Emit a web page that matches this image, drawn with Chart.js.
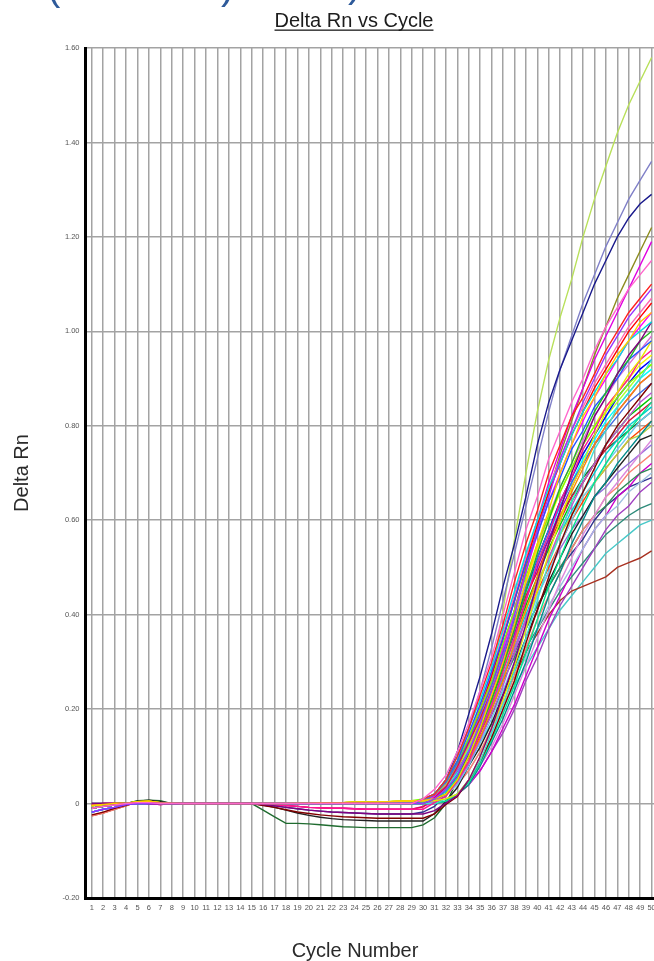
<!DOCTYPE html>
<html><head><meta charset="utf-8">
<script src="https://cdn.jsdelivr.net/npm/chart.js@4"></script>
<style>html,body{margin:0;padding:0;background:#fff;overflow:hidden}canvas{display:block}</style>
</head><body>
<canvas id="c" width="654" height="961" style="width:654px;height:961px"></canvas>
<script>
// ---------- data ----------
const chartTitle = 'Delta Rn vs Cycle';
const xTitle = 'Cycle Number';
const yTitle = 'Delta Rn';
const cycles = [1,2,3,4,5,6,7,8,9,10,11,12,13,14,15,16,17,18,19,20,21,22,23,24,25,26,27,28,29,30,31,32,33,34,35,36,37,38,39,40,41,42,43,44,45,46,47,48,49,50];
const yTicks = [-0.2,0,0.2,0.4,0.6,0.8,1.0,1.2,1.4,1.6];
const yTickLabels = ['-0.20','0','0.20','0.40','0.60','0.80','1.00','1.20','1.40','1.60'];

// baseline segments, cycles 1-29
const baseA = [-0.01,-0.006,-0.003,0,0.002,0.002,0,0,0,0,0,0,0,0,0,0,0,0,0,0,0,0,0,0,0,0,0,0,0];
const baseB = [-0.004,-0.002,0,0,0.004,0.005,0.002,0.001,0,0,0,0,0,0,0,0,0,0,0.001,0.001,0.002,0.002,0.002,0.003,0.003,0.003,0.004,0.005,0.006];
const baseC = [-0.026,-0.02,-0.012,-0.005,0.004,0.006,0.003,0,0,0,0,0,0,0,0,0,0,0,0,0,0,0,0,0,0,0,0,0,0];
const baseD = [-0.018,-0.012,-0.008,-0.002,0,0,0,0,0,0,0,0,0,0,0,0,0,0,0,0,0,0,0,0,0,0,0,0,0];
const baseE = [-0.003,0,0,0,0.002,0,-0.002,0,0,0,0,0,0,0,0,0,-0.002,-0.004,-0.006,-0.008,-0.009,-0.01,-0.01,-0.011,-0.012,-0.012,-0.012,-0.012,-0.012];
const baseF = [0,0,0,0,0,0,0,0,0,0,0,0,0,0,0,-0.002,-0.005,-0.008,-0.011,-0.014,-0.016,-0.018,-0.019,-0.02,-0.021,-0.022,-0.022,-0.022,-0.022];
const baseG = [-0.024,-0.018,-0.01,-0.004,0.003,0.006,0,0,0,0,0,0,0,0,0,-0.004,-0.008,-0.013,-0.018,-0.021,-0.024,-0.026,-0.028,-0.029,-0.03,-0.031,-0.031,-0.031,-0.031];
const baseH = [0,0,0,0,0.005,0.007,0.004,0,0,0,0,0,0,0,0,-0.003,-0.008,-0.014,-0.02,-0.025,-0.029,-0.032,-0.034,-0.035,-0.036,-0.037,-0.037,-0.037,-0.037];
const baseI = [-0.005,-0.003,0,0,0.006,0.007,0.006,0,0,0,0,0,0,0,0,-0.014,-0.028,-0.042,-0.042,-0.043,-0.045,-0.047,-0.049,-0.05,-0.051,-0.051,-0.051,-0.051,-0.051];

// amplification segments, cycles 30-50
const riseLG = [.003,.008,.02,.045,.09,.16,.27,.41,.56,.70,.83,.94,1.03,1.11,1.20,1.28,1.35,1.42,1.48,1.53,1.58];
const riseSlate = [.005,.015,.04,.09,.16,.24,.33,.43,.53,.63,.73,.83,.92,.99,1.06,1.12,1.18,1.23,1.28,1.32,1.36];
const riseNavy = [.005,.02,.05,.11,.19,.27,.36,.46,.55,.65,.76,.85,.92,.98,1.04,1.10,1.15,1.20,1.24,1.27,1.29];
const riseOlive = [.004,.01,.03,.07,.12,.18,.25,.33,.41,.50,.58,.66,.74,.81,.88,.95,1.01,1.07,1.12,1.17,1.22];
const riseMagenta = [-.006,.003,.03,.072,.13,.20,.27,.35,.44,.52,.60,.68,.75,.82,.88,.94,.99,1.04,1.09,1.14,1.19];
const riseBrown = [.002,.01,.03,.06,.10,.14,.19,.23,.27,.32,.36,.40,.43,.45,.46,.47,.48,.50,.51,.52,.535];
const riseCyanTeal = [.003,.01,.025,.05,.09,.13,.17,.21,.25,.29,.33,.37,.41,.44,.47,.50,.53,.55,.57,.59,.60];
const riseTeal = [.003,.01,.03,.06,.10,.14,.19,.24,.28,.33,.37,.41,.45,.48,.51,.54,.57,.59,.61,.625,.635];
const riseNavy2 = [-.018,-.006,.02,.06,.11,.16,.21,.27,.32,.37,.42,.46,.50,.53,.56,.60,.63,.65,.67,.68,.69];
const riseDkGreen = [-.045,-.03,0,.05,.11,.18,.25,.32,.39,.45,.51,.56,.61,.65,.69,.72,.75,.77,.79,.81,.83];
const rise01 = [.01,.03,.06,.11,.17,.24,.31,.40,.49,.58,.65,.73,.79,.85,.90,.96,1.01,1.05,1.09,1.12,1.15];
const rise02 = [0,.01,.03,.06,.11,.17,.24,.31,.40,.49,.58,.65,.73,.79,.85,.90,.95,.99,1.03,1.06,1.09];
const rise03 = [.01,.02,.05,.10,.16,.23,.30,.38,.47,.55,.62,.70,.76,.82,.86,.91,.96,1.0,1.04,1.07,1.10];
const rise04 = [.006,.01,.02,.05,.10,.16,.23,.30,.38,.47,.55,.62,.70,.76,.82,.86,.91,.95,.98,1.02,1.04];
const rise05 = [.01,.02,.05,.10,.16,.22,.29,.37,.45,.53,.60,.67,.72,.78,.83,.87,.91,.94,.98,1.0,1.02];
const rise06 = [-.022,-.015,.001,.017,.05,.10,.16,.23,.30,.38,.47,.55,.62,.70,.76,.82,.86,.91,.95,.98,1.02];
const rise07 = [0,.01,.02,.05,.10,.16,.22,.29,.37,.45,.53,.60,.67,.72,.78,.83,.87,.91,.94,.98,1.0];
const rise08 = [.01,.02,.05,.09,.15,.21,.28,.35,.43,.51,.57,.64,.69,.75,.79,.84,.87,.90,.94,.96,.98];
const rise09 = [.006,.006,.01,.02,.05,.10,.16,.22,.29,.37,.45,.53,.60,.67,.72,.78,.83,.87,.91,.94,.98];
const rise10 = [-.012,.002,.015,.048,.09,.15,.21,.28,.35,.43,.51,.57,.64,.69,.75,.79,.84,.87,.90,.94,.96];
const rise11 = [0,0,.01,.02,.05,.09,.15,.21,.28,.35,.43,.51,.57,.64,.69,.75,.79,.84,.87,.90,.94];
const rise12 = [.01,.02,.05,.09,.14,.20,.26,.34,.41,.48,.55,.61,.66,.71,.76,.80,.83,.86,.89,.91,.93];
const rise13 = [.006,.01,.02,.05,.09,.14,.20,.26,.34,.41,.48,.55,.61,.66,.71,.76,.80,.83,.86,.89,.91];
const rise14 = [-.031,-.022,-.002,.015,.05,.09,.14,.20,.26,.34,.41,.48,.55,.61,.66,.71,.76,.80,.83,.86,.89];
const rise15 = [.005,.02,.045,.085,.135,.19,.25,.32,.39,.46,.52,.58,.63,.68,.72,.76,.79,.82,.85,.87,.89];
const rise16 = [0,.005,.02,.045,.085,.135,.19,.25,.32,.39,.46,.52,.58,.63,.68,.72,.76,.79,.82,.85,.87];
const rise17 = [0,0,.005,.02,.045,.085,.135,.19,.25,.32,.39,.46,.52,.58,.63,.68,.72,.76,.79,.82,.85];
const rise18 = [-.007,.012,.035,.078,.13,.18,.24,.30,.37,.44,.49,.55,.60,.65,.68,.72,.75,.78,.81,.83,.85];
const rise19 = [0,.005,.02,.04,.08,.13,.18,.24,.30,.37,.44,.49,.55,.60,.65,.68,.72,.75,.78,.81,.83];
const rise20 = [0,0,.005,.02,.04,.08,.13,.18,.24,.30,.37,.44,.49,.55,.60,.65,.68,.72,.75,.78,.81];
const rise21 = [-.037,-.021,.005,.034,.08,.12,.17,.23,.29,.35,.41,.47,.52,.57,.61,.65,.68,.71,.74,.77,.78];
const rise22 = [.006,.02,.04,.08,.12,.17,.23,.29,.35,.41,.47,.52,.57,.61,.65,.68,.71,.74,.77,.78,.80];
const rise23 = [0,0,.005,.02,.04,.08,.12,.17,.23,.29,.35,.41,.47,.52,.57,.61,.65,.68,.71,.74,.77];
const rise24 = [0,.004,.02,.04,.07,.11,.16,.21,.27,.33,.39,.44,.49,.54,.58,.61,.65,.67,.70,.72,.74];
const rise25 = [.004,.02,.04,.07,.11,.16,.21,.27,.33,.39,.44,.49,.54,.58,.61,.65,.67,.70,.72,.74,.76];
const rise26 = [.004,.02,.04,.07,.11,.15,.20,.26,.31,.37,.42,.46,.50,.54,.58,.61,.63,.66,.68,.70,.71];
const rise27 = [0,.004,.02,.04,.07,.11,.15,.20,.26,.31,.37,.42,.46,.50,.54,.58,.61,.63,.66,.68,.70];
const rise28 = [0,0,.004,.02,.04,.07,.11,.16,.21,.27,.33,.39,.44,.49,.54,.58,.61,.65,.67,.70,.72];
const rise29 = [0,0,.004,.02,.04,.07,.11,.15,.20,.26,.31,.37,.42,.46,.50,.54,.58,.61,.63,.66,.68];
const rise30 = [.005,.015,.035,.075,.13,.19,.26,.33,.41,.49,.57,.64,.70,.76,.81,.86,.90,.94,.98,1.01,1.04];
const rise31 = [.004,.012,.03,.065,.115,.17,.235,.30,.37,.44,.51,.57,.63,.68,.73,.77,.81,.84,.87,.90,.92];
const rise32 = [.006,.012,.03,.07,.12,.18,.245,.315,.39,.465,.54,.60,.66,.71,.76,.80,.84,.87,.90,.93,.95];
const rise33 = [.005,.015,.04,.08,.135,.20,.27,.35,.43,.51,.59,.66,.72,.78,.83,.88,.92,.96,1.0,1.03,1.06];
const rise34 = [.004,.01,.03,.06,.105,.16,.22,.285,.35,.42,.48,.54,.59,.64,.68,.72,.76,.79,.82,.84,.86];
const rise35 = [.005,.015,.035,.07,.12,.18,.24,.31,.38,.45,.52,.58,.64,.69,.74,.78,.82,.86,.89,.92,.94];
const rise36 = [.005,.015,.04,.08,.14,.21,.28,.36,.44,.52,.60,.67,.73,.79,.84,.89,.93,.97,1.01,1.04,1.07];
const rise37 = [.004,.012,.03,.065,.11,.165,.225,.29,.36,.43,.50,.56,.62,.67,.72,.76,.80,.83,.86,.89,.91];
const rise38 = [.004,.01,.025,.055,.10,.15,.21,.27,.34,.40,.46,.52,.57,.62,.66,.70,.74,.77,.80,.82,.84];
const rise39 = [.005,.013,.032,.068,.12,.175,.24,.31,.38,.45,.52,.58,.64,.69,.74,.78,.82,.85,.88,.91,.93];
const rise40 = [.004,.01,.028,.06,.10,.15,.21,.27,.33,.39,.45,.50,.55,.60,.64,.68,.71,.74,.77,.79,.81];
const rise41 = [.005,.014,.035,.072,.125,.185,.25,.32,.40,.47,.54,.61,.67,.72,.77,.82,.86,.90,.93,.96,.99];

// wells: [name, baseline (cycles 1-29), amplification (cycles 30-50)]
const wells = [
  ['W01', baseA, rise01], ['W02', baseD, rise02], ['W03', baseA, rise03], ['W04', baseB, rise04],
  ['W05', baseA, rise05], ['W06', baseF, rise06], ['W07', baseA, rise07], ['W08', baseD, rise08],
  ['W09', baseB, rise09], ['W10', baseE, rise10], ['W11', baseA, rise11], ['W12', baseB, rise12],
  ['W13', baseB, rise13], ['W14', baseG, rise14], ['W15', baseA, rise15], ['W16', baseA, rise16],
  ['W17', baseA, rise17], ['W18', baseE, rise18], ['W19', baseD, rise19], ['W20', baseA, rise20],
  ['W21', baseH, rise21], ['W22', baseB, rise22], ['W23', baseA, rise23], ['W24', baseC, rise24],
  ['W25', baseA, rise25], ['W26', baseA, rise26], ['W27', baseD, rise27], ['W28', baseA, rise28],
  ['W29', baseA, rise29], ['W30', baseA, rise30], ['W31', baseD, rise31], ['W32', baseB, rise32],
  ['W33', baseA, rise33], ['W34', baseA, rise34], ['W35', baseD, rise35], ['W36', baseA, rise36],
  ['W37', baseA, rise37], ['W38', baseA, rise38], ['W39', baseB, rise39], ['W40', baseA, rise40],
  ['W41', baseA, rise41],
  ['W42', baseI, riseDkGreen], ['W43', baseC, riseBrown], ['W44', baseA, riseCyanTeal], ['W45', baseA, riseTeal],
  ['W46', baseF, riseNavy2], ['W47', baseE, riseMagenta], ['W48', baseA, riseOlive],
  ['W49', baseA, riseNavy], ['W50', baseD, riseSlate], ['W51', baseB, riseLG]
];

// ---------- styles ----------
const wellColors = [
  '#ff66cc','#9933ff','#ff2020','#ffc800','#00e0e0','#800080','#22bb22','#2255ff',
  '#e8e800','#ff1493','#40e0d0','#7fff00','#ff8c00','#800000','#4169e1','#ba55d3',
  '#00e890','#dc143c','#70c8f0','#008b8b','#222222','#b8d040','#dd88dd','#fa8072',
  '#9370db','#2e8b57','#9ec0e0','#cc00cc','#a040c0',
  '#ff00ff','#00ffff','#f5f500','#ff0000','#00c800','#0000ff','#ff69b4','#9400d3',
  '#00ced1','#adff2f','#ff4500','#da70d6',
  '#1f6b2f','#a83020','#48c8c8','#2e8b7a','#303090','#e000e0','#8c8c1e',
  '#1a1a8c','#8080c8','#b8e05a'
];
const FONT = '"Liberation Sans", Arial, sans-serif';

const datasets = wells.map((w, i) => ({
  label: w[0],
  data: w[1].concat(w[2]).map((v, j) => ({x: cycles[j], y: v})),
  borderColor: wellColors[i],
  borderWidth: 1.4,
  pointRadius: 0,
  fill: false,
  tension: 0
}));

const textPlugin = {
  id: 'texts',
  afterDraw(chart) {
    const ctx = chart.ctx;
    const a = chart.chartArea;
    ctx.save();
    // cut-off blue heading fragments at the very top
    ctx.fillStyle = '#2e5a9a';
    ctx.font = '40px ' + FONT;
    ctx.textAlign = 'left';
    ctx.textBaseline = 'alphabetic';
    ctx.fillText('(', 47, -0.5);
    ctx.fillText(')', 221, -1);
    ctx.fillText(')', 348, -3);
    // chart title, underlined
    ctx.fillStyle = '#1c1c1c';
    ctx.font = '20px ' + FONT;
    ctx.textAlign = 'center';
    const tx = 354, ty = 27;
    ctx.fillText(chartTitle, tx, ty);
    const tw = ctx.measureText(chartTitle).width;
    ctx.fillRect(tx - tw / 2, ty + 2.5, tw, 1.3);
    // x axis title
    ctx.fillStyle = '#2a2a2a';
    ctx.fillText(xTitle, 355, 957);
    // y axis title
    ctx.translate(28, (a.top + a.bottom) / 2);
    ctx.rotate(-Math.PI / 2);
    ctx.fillText(yTitle, 0, 0);
    ctx.restore();
  }
};

new Chart(document.getElementById('c'), {
  type: 'line',
  data: { datasets },
  plugins: [textPlugin],
  options: {
    responsive: false,
    animation: false,
    devicePixelRatio: 1,
    layout: { padding: { top: 48, left: 0, right: 0, bottom: 0 } },
    plugins: { legend: { display: false }, title: { display: false }, tooltip: { enabled: false } },
    scales: {
      x: {
        type: 'linear',
        min: 0.45,
        max: 50.21,
        afterBuildTicks: s => { s.ticks = cycles.map(v => ({ value: v })); },
        afterFit: s => { s.height = 63; s.paddingLeft = 0; s.paddingRight = 0; },
        grid: { color: '#a3a3a3', lineWidth: 1.5, drawTicks: false },
        border: { color: '#000', width: 3 },
        ticks: {
          autoSkip: false, maxRotation: 0, minRotation: 0, padding: 5,
          color: '#555', font: { size: 7.5, family: FONT },
          callback: (v, i) => String(cycles[i])
        }
      },
      y: {
        min: -0.2,
        max: 1.6,
        afterBuildTicks: s => { s.ticks = yTicks.map(v => ({ value: v })); },
        afterFit: s => { s.width = 85.5; },
        grid: { color: '#a3a3a3', lineWidth: 1.5, drawTicks: false },
        border: { color: '#000', width: 3 },
        ticks: {
          padding: 6, color: '#555', font: { size: 7.5, family: FONT },
          callback: (v, i) => yTickLabels[i]
        }
      }
    }
  }
});
</script>
</body></html>
